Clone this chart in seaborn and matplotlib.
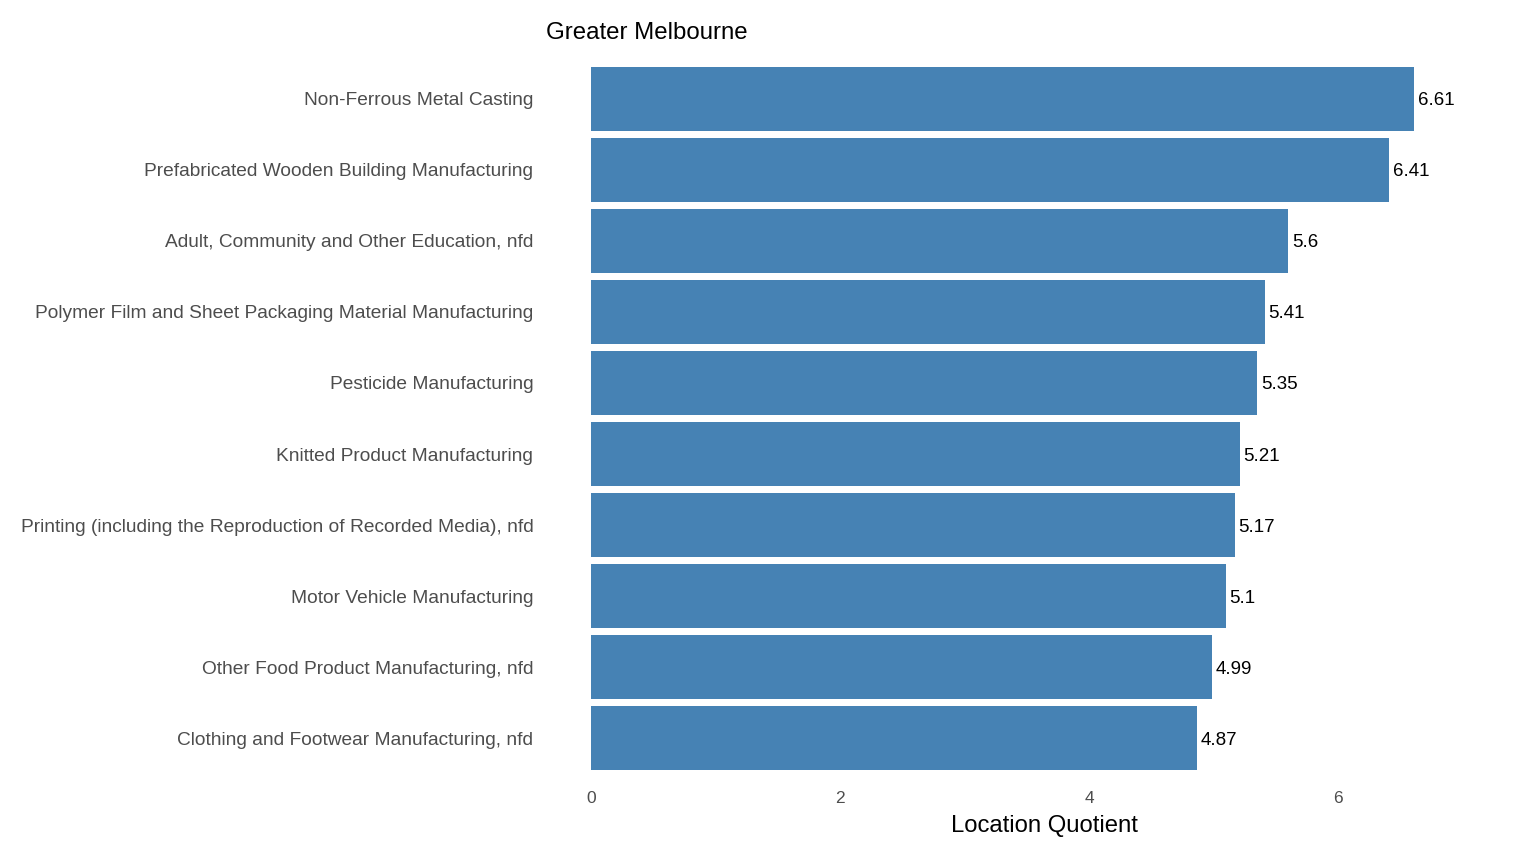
import pandas as pd
import matplotlib
matplotlib.use("Agg")
import matplotlib.pyplot as plt
import seaborn as sns

# data
industries = [
    "Non-Ferrous Metal Casting",
    "Prefabricated Wooden Building Manufacturing",
    "Adult, Community and Other Education, nfd",
    "Polymer Film and Sheet Packaging Material Manufacturing",
    "Pesticide Manufacturing",
    "Knitted Product Manufacturing",
    "Printing (including the Reproduction of Recorded Media), nfd",
    "Motor Vehicle Manufacturing",
    "Other Food Product Manufacturing, nfd",
    "Clothing and Footwear Manufacturing, nfd",
]
lq_values = [6.61, 6.41, 5.6, 5.41, 5.35, 5.21, 5.17, 5.1, 4.99, 4.87]
lq_labels = ["6.61", "6.41", "5.6", "5.41", "5.35", "5.21", "5.17", "5.1", "4.99", "4.87"]
x_ticks = [0, 2, 4, 6]

df = pd.DataFrame({"Industry": industries, "LQ": lq_values})

sns.set_theme(style="white")
plt.rcParams["font.family"] = ["Liberation Sans", "DejaVu Sans"]

W, H = 1526, 860
fig = plt.figure(figsize=(W / 100, H / 100), dpi=100)
ax = fig.add_axes([550 / W, 1 - 781 / H, (1455 - 550) / W, (781 - 56) / H])

sns.barplot(data=df, x="LQ", y="Industry", color="#4682B4", saturation=1,
            width=0.9, ax=ax, orient="h", linewidth=0)

# value labels just past the bar ends
for i, (v, lab) in enumerate(zip(lq_values, lq_labels)):
    ax.text(v + 0.03, i, lab, va="center_baseline", ha="left", fontsize=13.5,
            color="black")

ax.set_xlim(-0.33, 6.94)
ax.set_ylim(9.6, -0.6)
ax.set_xticks(x_ticks)
ax.set_xticklabels([str(t) for t in x_ticks])
ax.tick_params(axis="x", length=0, pad=7, labelsize=12.5, labelcolor="#4D4D4D")
ax.tick_params(axis="y", length=0, pad=12, labelsize=13.8, labelcolor="#4D4D4D")
ax.set_xlabel("")
ax.set_ylabel("")
for s in ax.spines.values():
    s.set_visible(False)

fig.text(546 / W, 1 - 33 / H, "Greater Melbourne", ha="left", va="center",
         fontsize=17.3, color="black")
fig.text(1044 / W, 1 - 826 / H, "Location Quotient", ha="center", va="center",
         fontsize=17.2, color="black")

fig.savefig("out.png", dpi=100)
